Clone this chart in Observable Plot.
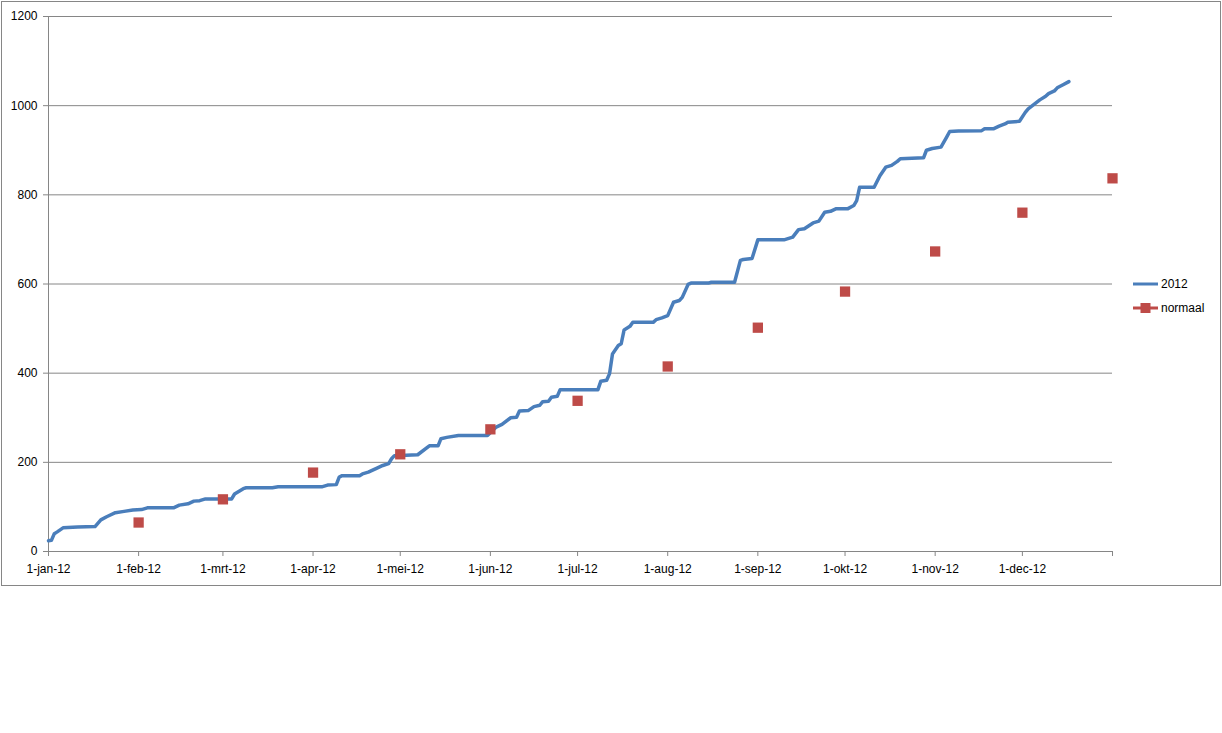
<!DOCTYPE html>
<html>
<head>
<meta charset="utf-8">
<script src="https://cdn.jsdelivr.net/npm/d3@7"></script>
<script src="https://cdn.jsdelivr.net/npm/@observablehq/plot@0.6"></script>
<style>
  html, body { margin: 0; padding: 0; background: #fff; }
  body { width: 1222px; height: 733px; position: relative; overflow: hidden; font-family: "Liberation Sans", Arial, sans-serif; }
  #frame { position: absolute; left: 1px; top: 1px; width: 1218px; height: 583px; border: 1px solid #868686; }
  #chart { position: absolute; left: 0; top: 0; }
  #legend { position: absolute; left: 1133px; top: 272px; font-size: 12px; color: #000; }
  .item { display: flex; align-items: center; height: 24px; }
  .item svg { margin-right: 2px; }
</style>
</head>
<body>
<div id="frame"></div>
<div id="chart"></div>
<div id="legend"></div>
<script>
// ---- data ----
const seriesNames = ["2012", "normaal"];
const seriesColors = ["#4a7ebb", "#be4b48"];

const lineDates = [
  "2012-01-01","2012-01-02","2012-01-03","2012-01-04","2012-01-06","2012-01-11","2012-01-17","2012-01-19",
  "2012-01-21","2012-01-24","2012-01-27","2012-01-30","2012-02-02","2012-02-04","2012-02-13","2012-02-15",
  "2012-02-18","2012-02-20","2012-02-22","2012-02-24","2012-03-04","2012-03-05","2012-03-08","2012-03-09",
  "2012-03-18","2012-03-20","2012-04-04","2012-04-06","2012-04-09","2012-04-10","2012-04-11","2012-04-17",
  "2012-04-18","2012-04-20","2012-04-23","2012-04-25","2012-04-27","2012-04-28","2012-04-29","2012-05-07",
  "2012-05-11","2012-05-14","2012-05-15","2012-05-17","2012-05-21","2012-05-31","2012-06-03","2012-06-05",
  "2012-06-08","2012-06-10","2012-06-11","2012-06-14","2012-06-16","2012-06-18","2012-06-19","2012-06-21",
  "2012-06-22","2012-06-24","2012-06-25","2012-07-08","2012-07-09","2012-07-11","2012-07-12","2012-07-13",
  "2012-07-15","2012-07-16","2012-07-17","2012-07-19","2012-07-20","2012-07-27","2012-07-28","2012-07-30",
  "2012-08-01","2012-08-03","2012-08-05","2012-08-06","2012-08-08","2012-08-09","2012-08-15","2012-08-16",
  "2012-08-24","2012-08-26","2012-08-27","2012-08-30","2012-09-01","2012-09-10","2012-09-13","2012-09-15",
  "2012-09-17","2012-09-20","2012-09-22","2012-09-24","2012-09-26","2012-09-28","2012-10-02","2012-10-04",
  "2012-10-05","2012-10-06","2012-10-11","2012-10-13","2012-10-15","2012-10-17","2012-10-19","2012-10-20",
  "2012-10-28","2012-10-29","2012-10-31","2012-11-03","2012-11-05","2012-11-06","2012-11-09","2012-11-17",
  "2012-11-18","2012-11-21","2012-11-23","2012-11-25","2012-11-26","2012-11-30","2012-12-02","2012-12-03",
  "2012-12-05","2012-12-06","2012-12-07","2012-12-09","2012-12-10","2012-12-12","2012-12-13","2012-12-15",
  "2012-12-17"
];
const lineValues = [
  24, 25, 40, 44, 53, 55, 56, 71,
  78, 87, 90, 93, 94, 98, 98, 104,
  107, 113, 114, 118, 118, 129, 141, 143,
  143, 145, 145, 149, 150, 167, 170, 170,
  174, 178, 187, 193, 197, 208, 215, 217,
  237, 237, 253, 256, 260, 260, 279, 285,
  300, 301, 315, 316, 325, 328, 336, 337,
  346, 348, 363, 363, 382, 384, 399, 443,
  462, 466, 497, 505, 514, 514, 520, 524,
  529, 559, 563, 570, 599, 602, 602, 604,
  604, 653, 655, 657, 699, 699, 705, 722,
  724, 737, 741, 761, 763, 769, 769, 776,
  787, 817, 817, 843, 862, 866, 875, 881,
  883, 900, 904, 907, 930, 942, 943, 944,
  948, 948, 954, 959, 963, 965, 985, 993,
  1003, 1008, 1013, 1021, 1027, 1033, 1040, 1047,
  1054
];

const normalDates = ["2012-02-01","2012-03-01","2012-04-01","2012-05-01","2012-06-01","2012-07-01",
                     "2012-08-01","2012-09-01","2012-10-01","2012-11-01","2012-12-01","2013-01-01"];
const normalValues = [65, 117, 177, 218, 274, 338, 415, 502, 583, 673, 760, 837];

const xTickDates = ["2012-01-01","2012-02-01","2012-03-01","2012-04-01","2012-05-01","2012-06-01",
                    "2012-07-01","2012-08-01","2012-09-01","2012-10-01","2012-11-01","2012-12-01","2013-01-01"];
const xTickLabels = ["1-jan-12","1-feb-12","1-mrt-12","1-apr-12","1-mei-12","1-jun-12",
                     "1-jul-12","1-aug-12","1-sep-12","1-okt-12","1-nov-12","1-dec-12",""];
const yTicks = [0, 200, 400, 600, 800, 1000, 1200];

// ---- build tables ----
const lineData = lineDates.map((d, i) => ({date: new Date(d), value: lineValues[i]}));
const normalData = normalDates.map((d, i) => ({date: new Date(d), value: normalValues[i]}));
const xTicks = xTickDates.map(d => new Date(d));
const labelByTime = new Map(xTicks.map((d, i) => [+d, xTickLabels[i]]));

const gray = "#868686";

const chart = Plot.plot({
  width: 1222,
  height: 733,
  marginLeft: 48,
  marginRight: 110,
  marginTop: 16,
  marginBottom: 182,
  style: {fontFamily: "'Liberation Sans', Arial, sans-serif", fontSize: "12px", background: "transparent", color: "#000"},
  x: {type: "utc", domain: [xTicks[0], xTicks[xTicks.length - 1]]},
  y: {domain: [0, 1200]},
  marks: [
    Plot.gridY(yTicks, {stroke: gray, strokeOpacity: 1, strokeWidth: 1}),
    Plot.ruleX([xTicks[0]], {stroke: gray, strokeWidth: 1}),
    Plot.axisY({ticks: yTicks, tickFormat: d => String(d), tickSize: 5, tickPadding: 6,
                stroke: gray, fill: "#000", fontSize: 12, label: null}),
    Plot.axisX({ticks: xTicks, tickFormat: d => labelByTime.get(+d) ?? "", tickSize: 5, tickPadding: 8,
                stroke: gray, fill: "#000", fontSize: 12, label: null}),
    Plot.line(lineData, {x: "date", y: "value", stroke: seriesColors[0], strokeWidth: 3.5,
                         strokeLinejoin: "round", strokeLinecap: "round"}),
    Plot.dot(normalData, {x: "date", y: "value", symbol: "square", r: 5.8, fill: seriesColors[1], stroke: "none"})
  ]
});
document.getElementById("chart").appendChild(chart);

// ---- legend ----
const legend = document.getElementById("legend");
seriesNames.forEach((name, i) => {
  const item = document.createElement("div");
  item.className = "item";
  const marker = i === 1 ? `<rect x="7.5" y="4" width="10" height="10" fill="${seriesColors[i]}"/>` : "";
  item.innerHTML = `<svg width="26" height="18"><line x1="0" x2="25" y1="9" y2="9" stroke="${seriesColors[i]}" stroke-width="3"/>${marker}</svg><span>${name}</span>`;
  legend.appendChild(item);
});
</script>
</body>
</html>
